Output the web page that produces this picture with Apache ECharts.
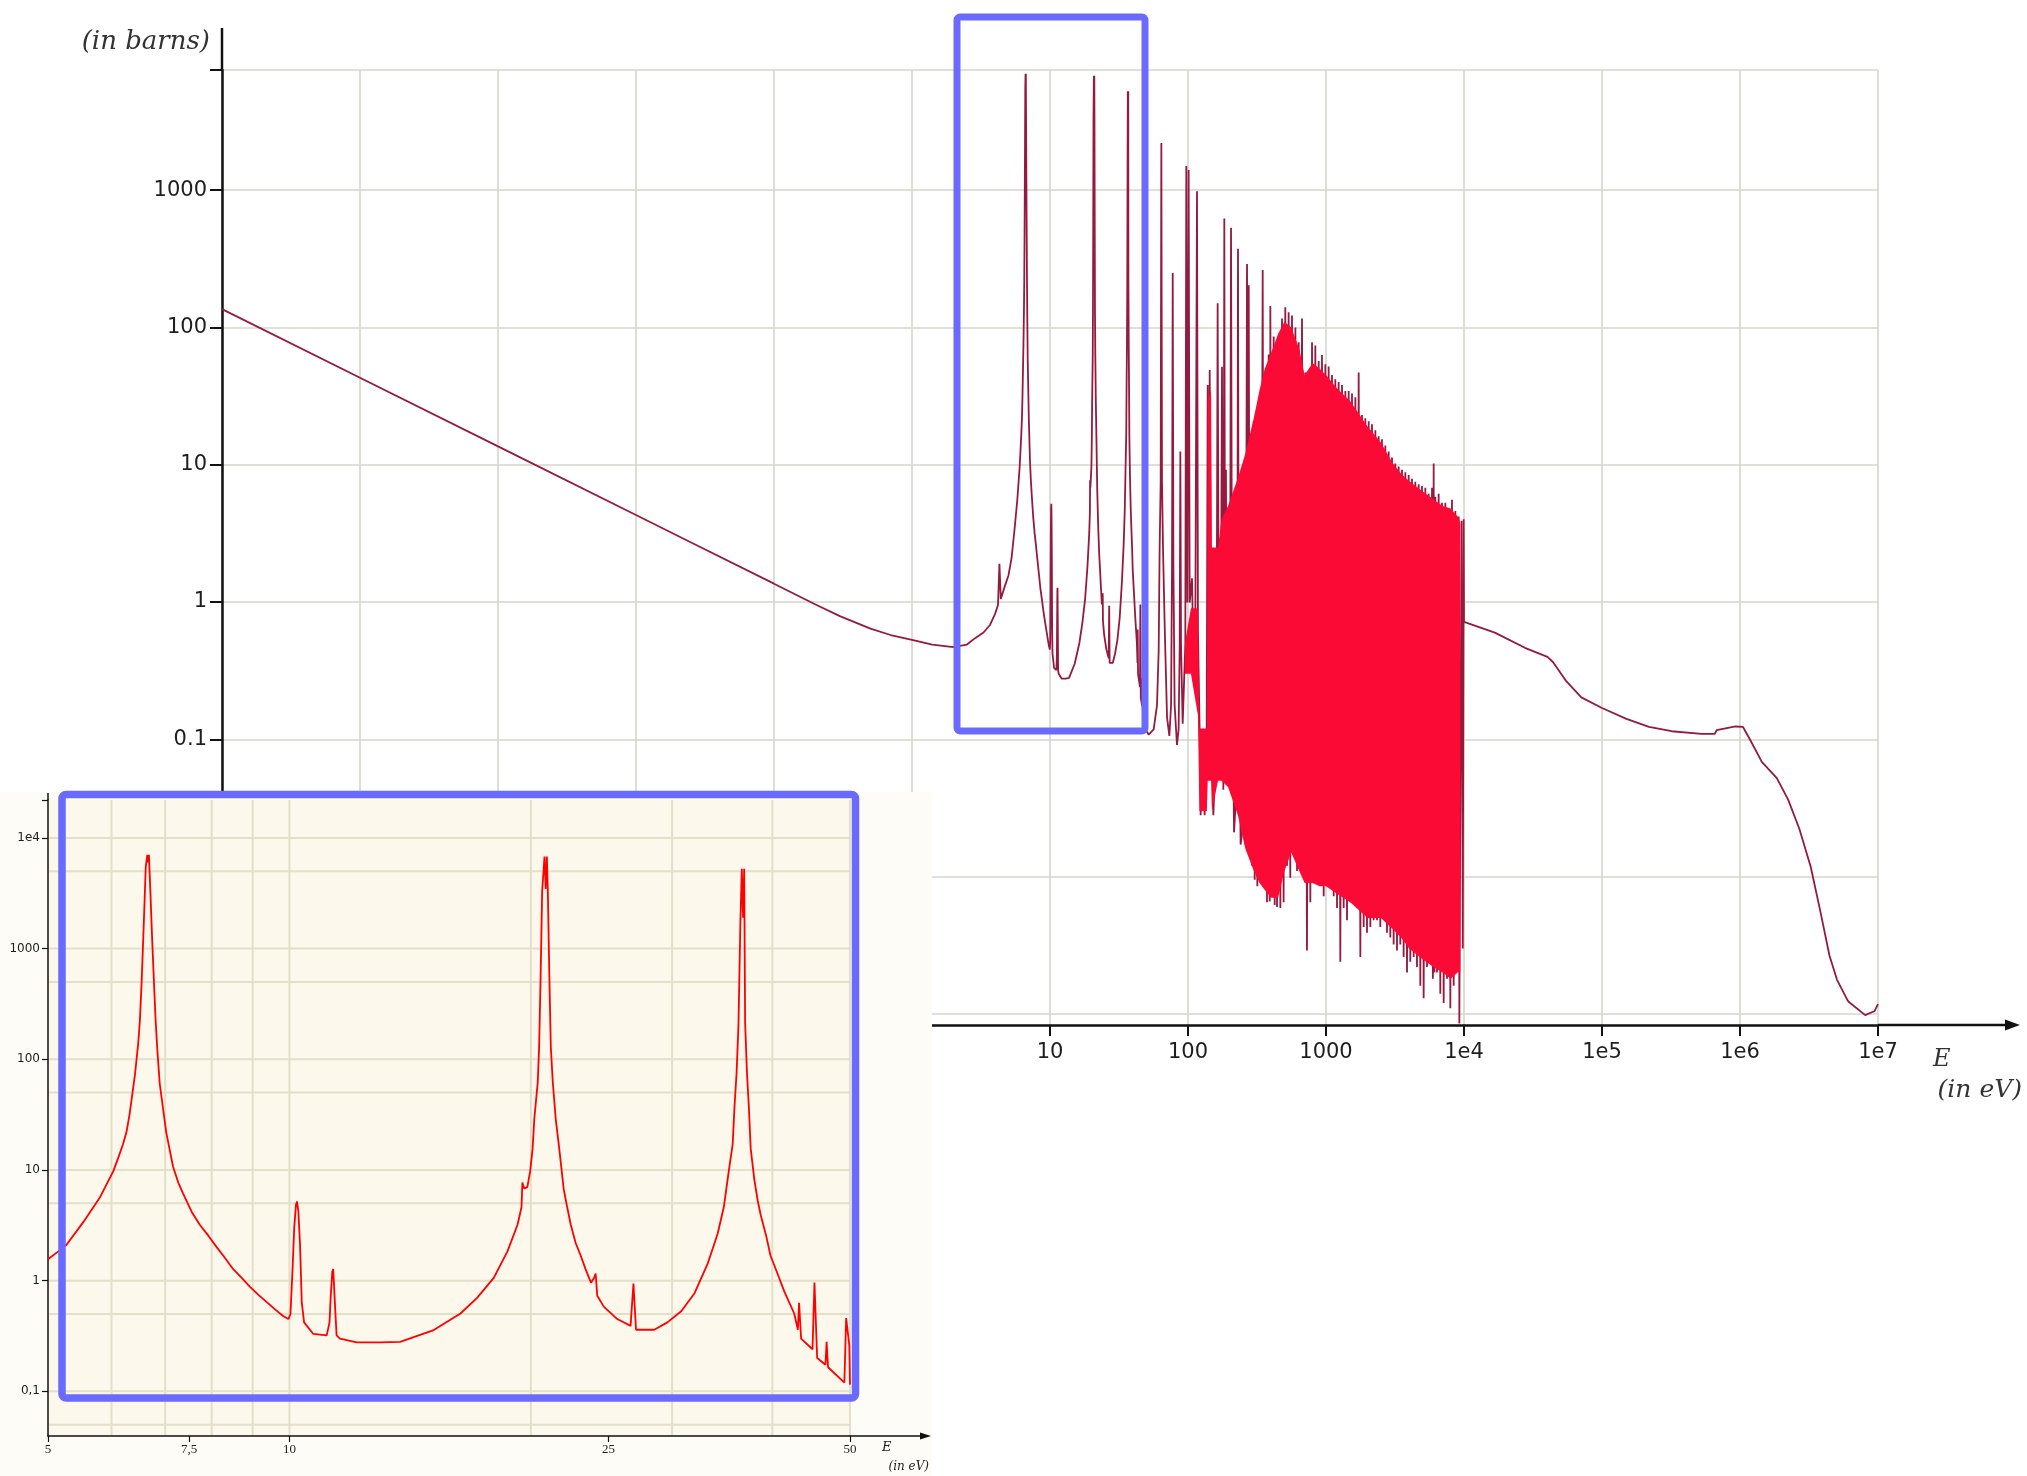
<!DOCTYPE html>
<html>
<head>
<meta charset="utf-8">
<title>U-238 radiative capture cross-section</title>
<script src="https://cdn.jsdelivr.net/npm/echarts@6/dist/echarts.min.js"></script>
<style>
  html, body { margin: 0; padding: 0; background: #ffffff; }
  #chart { width: 2027px; height: 1476px; }
</style>
</head>
<body>
<div id="chart"></div>
<script>
// Capture cross-section sigma (barns) against neutron energy E (eV), as [E, sigma] pairs.

// 1/v region up to the first resonance
const thermalRegion = [
  [1e-5, 136], [1e-4, 43], [1e-3, 13.6], [0.01, 4.3], [0.0253, 2.7], [0.1, 1.36],
  [0.2, 0.96], [0.3, 0.79], [0.5, 0.64], [0.7, 0.575], [1, 0.53], [1.4, 0.49], [2, 0.47],
  [2.5, 0.49], [2.9, 0.55], [3.3, 0.6], [3.67, 0.68], [4.0, 0.82], [4.2, 0.95], [4.3, 1.9],
  [4.4, 1.05], [4.7, 1.3]
];

// First resolved resonances, 5 - 50 eV (also shown enlarged in the inset)
const lowResonances = [
  [5.0, 1.56], [5.15, 1.84], [5.27, 2.1], [5.53, 3.36], [5.80, 5.6], [5.915, 7.4], [6.03, 9.7],
  [6.115, 12.8], [6.20, 17], [6.264, 22], [6.32, 32], [6.42, 74], [6.48, 142], [6.51, 226],
  [6.54, 470], [6.57, 1140], [6.60, 2870], [6.62, 5480], [6.65, 7040], [6.665, 6010],
  [6.68, 7040], [6.71, 3150], [6.74, 1310], [6.78, 470], [6.81, 226], [6.84, 129], [6.89, 61],
  [6.96, 35], [7.02, 22], [7.096, 14.8], [7.16, 10.7], [7.268, 7.7], [7.37, 6.1], [7.551, 4.2],
  [7.73, 3.2], [7.923, 2.55], [8.11, 2.02], [8.312, 1.6], [8.51, 1.27], [8.72, 1.06],
  [8.93, 0.88], [9.149, 0.745], [9.37, 0.64], [9.596, 0.55], [9.82, 0.48], [9.97, 0.45],
  [10.03, 0.5], [10.09, 1.27], [10.14, 3.06], [10.19, 4.86], [10.22, 5.2], [10.26, 4.2],
  [10.31, 2.1], [10.36, 0.64], [10.43, 0.42], [10.71, 0.33], [11.13, 0.32], [11.22, 0.42],
  [11.26, 0.73], [11.31, 1.21], [11.34, 1.27], [11.39, 0.66], [11.45, 0.32], [11.56, 0.30],
  [12.13, 0.277], [12.98, 0.277], [13.74, 0.28], [15.1, 0.355], [16.34, 0.505], [17.14, 0.70],
  [17.98, 1.06], [18.7, 1.84], [19.25, 3.2], [19.47, 4.6], [19.52, 7.7], [19.62, 6.8],
  [19.8, 7.0], [19.96, 9.7], [20.1, 15.5], [20.2, 29], [20.4, 62], [20.48, 129], [20.57, 569],
  [20.66, 3300], [20.8, 6800], [20.87, 3460], [20.94, 6800], [21.0, 3300], [21.09, 569],
  [21.18, 129], [21.3, 62], [21.48, 29], [21.7, 15.5], [21.98, 6.7], [22.2, 4.6],
  [22.43, 3.2], [22.74, 2.2], [23.08, 1.68], [23.4, 1.27], [23.77, 0.96], [23.97, 1.05],
  [24.09, 1.16], [24.2, 0.73], [24.67, 0.58], [25.63, 0.45], [26.63, 0.39], [26.85, 0.94],
  [26.95, 0.94], [27.05, 0.36], [28.5, 0.36], [29.6, 0.42], [30.8, 0.53], [32.0, 0.77],
  [33.2, 1.4], [33.7, 1.93], [34.2, 2.67], [34.8, 4.6], [35.3, 9.7], [35.7, 17], [35.9, 39],
  [36.1, 74], [36.3, 204], [36.5, 1730], [36.65, 5250], [36.78, 1900], [36.9, 5250],
  [37.0, 214], [37.2, 74], [37.4, 37], [37.6, 15.5], [38.0, 8.1], [38.36, 5.3], [38.7, 3.9],
  [39.3, 2.55], [39.8, 1.68], [40.6, 1.16], [41.4, 0.80], [42.6, 0.505], [43.05, 0.36],
  [43.2, 0.63], [43.35, 0.63], [43.45, 0.30], [44.9, 0.24], [45.15, 0.96], [45.36, 0.96],
  [45.5, 0.2], [46.6, 0.174], [46.75, 0.28], [46.82, 0.28], [46.95, 0.165], [49.2, 0.12],
  [49.45, 0.46], [49.58, 0.46], [49.9, 0.26], [50.0, 0.115]
];

// Resolved resonance forest, 50 eV - 10 keV: alternating peaks and valleys
const resonanceForest = [
  [51.9, 0.108], [56.4, 0.118], [59.6, 0.177], [61.3, 0.44], [62.3, 2.47], [63.4, 7.5],
  [64.1, 2207], [64.8, 7.5], [65.9, 2.47], [67.8, 0.66], [70.5, 0.144], [73.3, 0.106],
  [75.4, 0.177], [76.6, 1.82], [77.5, 249], [78.4, 1.82], [80.0, 0.177], [83.2, 0.091],
  [85.5, 0.118], [87.1, 0.49], [88.0, 12.5], [89.0, 0.49], [91.5, 0.13], [95.6, 0.49],
  [97.2, 1500], [98.9, 0.99], [101.1, 1400], [102.8, 0.99], [106.9, 1.49], [109.9, 0.32],
  [113.0, 0.6], [116.2, 980], [118.1, 0.6], [121.6, 0.106], [123.5, 0.028], [127.7, 0.106],
  [132.0, 0.028], [136.6, 0.118], [138.9, 38], [141.3, 0.177], [143.6, 49], [147.6, 0.177],
  [152.6, 0.028], [157.8, 0.064], [161.3, 0.49], [164.0, 150], [166.8, 0.49], [171.7, 0.064],
  [176.3, 51.7], [180.3, 0.043], [183.3, 621], [185.5, 0.49], [188.4, 9.2], [191.7, 0.047],
  [197.1, 0.064], [201.6, 0.49], [205.0, 533], [208.4, 0.49], [215.6, 0.021], [222.9, 0.0385],
  [227.8, 0.49], [230.3, 374], [232.9, 0.49], [240.6, 0.0171], [248.9, 0.0232], [254.5, 2.01],
  [260.3, 0.0171], [267.7, 290], [272.3, 3.7], [275.4, 203], [281.6, 0.0171], [291.5, 0.012],
  [299.2, 20.7], [304.3, 0.0095], [311.1, 2.0], [318.0, 0.0085], [325.2, 10.2], [336.4, 0.009],
  [347.7, 262], [355.0, 0.011], [363.3, 6.15], [373.6, 0.0065], [384.2, 63.4], [391.0, 0.0066],
  [395.1, 143], [406.3, 0.0085], [417.8, 85.9], [425.0, 0.0062], [429.6, 63.4], [441.8, 0.006],
  [454, 63], [467, 0.0059], [480, 116], [493, 0.0065], [507, 140], [522, 0.012],
  [536, 129], [551, 0.0098], [567, 122], [583, 0.016], [600, 100], [617, 0.011],
  [634, 78], [652, 0.012], [670, 116], [689, 0.018], [708, 47], [728, 0.0029],
  [749, 38], [770, 0.0065], [792, 78], [814, 0.0098], [837, 74], [861, 0.012],
  [885, 57], [910, 0.0088], [935, 63], [962, 0.0072], [989, 54], [1017, 0.0088],
  [1045, 52], [1075, 0.0098], [1105, 45], [1137, 0.0072], [1168, 42], [1202, 0.0059],
  [1235, 40], [1270, 0.0024], [1306, 38], [1343, 0.0059], [1381, 34.5], [1420, 0.0048],
  [1460, 34.5], [1501, 0.0065], [1543, 33], [1587, 0.0072], [1632, 31], [1678, 0.0059],
  [1725, 47], [1774, 0.0026], [1824, 23], [1875, 0.0043], [1928, 21.8], [1982, 0.0039],
  [2038, 20.7], [2096, 0.0043], [2154, 19.7], [2215, 0.0048], [2278, 17.8], [2342, 0.0048],
  [2407, 16.1], [2475, 0.0043], [2545, 15.3], [2617, 0.0053], [2691, 13.8], [2767, 0.0039],
  [2845, 12.5], [2925, 0.0036], [3008, 11.3], [3092, 0.0032], [3179, 10.2], [3269, 0.0029],
  [3361, 9.7], [3455, 0.0032], [3553, 9.2], [3653, 0.0026], [3756, 8.8], [3864, 0.002],
  [3972, 8.4], [4084, 0.0024], [4199, 7.9], [4318, 0.0026], [4438, 7.5], [4564, 0.0022],
  [4693, 7.2], [4825, 0.0016], [4962, 7.0], [5101, 0.0013], [5245, 6.8], [5393, 0.0022],
  [5546, 6.15], [5702, 0.0024], [5863, 6.8], [5950, 0.0018], [6028, 10.2], [6110, 0.002],
  [6198, 5.85], [6371, 0.002], [6552, 6.15], [6736, 0.0014], [6927, 5.28], [7124, 0.0012],
  [7323, 5.28], [7530, 0.0018], [7743, 4.8], [7962, 0.0011], [8185, 5.55], [8416, 0.0016],
  [8654, 4.6], [8898, 0.0022], [9150, 4.2], [9253, 0.00085], [9600, 3.9], [9800, 0.003],
  [9950, 4.0]
];

// Envelope of the densely packed resonances (filled band)
const forestFillTop = [
  [95, 0.5], [105, 0.9], [118, 0.9], [121, 0.12], [137, 0.12], [139, 30], [147, 35],
  [149, 2.5], [165, 2.5], [175, 4], [195, 5], [230, 8], [260, 12], [300, 22], [330, 35],
  [360, 50], [400, 65], [450, 90], [500, 110], [560, 100], [640, 70], [700, 45], [800, 55],
  [900, 50], [1000, 45], [1200, 36], [1500, 29], [2000, 19], [2500, 14.5], [3000, 10.5],
  [3500, 8.6], [4000, 7.6], [5000, 6.4], [6000, 5.6], [7000, 5.0], [8000, 4.8], [9000, 4.2],
  [9400, 3.8]
];
const forestFillBottom = [
  [95, 0.3], [105, 0.3], [118, 0.15], [121, 0.03], [137, 0.03], [139, 0.05], [147, 0.05],
  [149, 0.03], [165, 0.05], [175, 0.05], [195, 0.045], [230, 0.028], [260, 0.016], [300, 0.011],
  [330, 0.009], [360, 0.008], [400, 0.007], [450, 0.007], [500, 0.011], [560, 0.015],
  [640, 0.011], [700, 0.009], [800, 0.009], [900, 0.0085], [1000, 0.0085], [1200, 0.0075],
  [1500, 0.0065], [2000, 0.005], [2500, 0.005], [3000, 0.0042], [3500, 0.0036], [4000, 0.003],
  [5000, 0.0025], [6000, 0.0022], [7000, 0.002], [8000, 0.0018], [9000, 0.002], [9400, 0.002]
];

// Unresolved / fast region, 10 keV - 10 MeV
const fastRegion = [
  [1e4, 0.716], [16730, 0.598], [27630, 0.464], [40260, 0.398], [44230, 0.364], [55090, 0.265],
  [70820, 0.202], [1e5, 0.169], [150300, 0.141], [219100, 0.123], [319300, 0.1145],
  [527200, 0.1094], [656800, 0.1098], [677500, 0.1167], [927500, 0.124], [1051000, 0.123],
  [1192000, 0.098], [1439000, 0.0684], [1849000, 0.0522], [2233000, 0.0364], [2695000, 0.0222],
  [3253000, 0.0118], [3805000, 0.0057], [4452000, 0.00265], [5047000, 0.00177],
  [6091000, 0.00123], [8078000, 0.00098], [9452000, 0.00105], [1e7, 0.00118]
];

// Axis ranges and tick values
const mainRangeE = [1e-5, 1e7];
const mainRangeSigma = [0.00083, 7500];
const mainTicksE = [1e-5, 1e-4, 1e-3, 0.01, 0.1, 1, 10, 100, 1000, 1e4, 1e5, 1e6, 1e7];
const mainLabelsSigma = [0.001, 0.01, 0.1, 1, 10, 100, 1000];
const mainTicksSigma = [0.001, 0.01, 0.1, 1, 10, 100, 1000, 7500];

const insetRangeE = [5, 50];
const insetRangeSigma = [0.0395, 22000];
const insetTicksE = [5, 7.5, 10, 25, 50];
const insetLabelsSigma = [0.1, 1, 10, 100, 1000, 1e4];
const insetTicksSigma = [0.1, 1, 10, 100, 1000, 1e4, 22000];
const insetGridE = [6, 7, 8, 9, 10, 20, 30, 40, 50];
const insetGridSigma = [0.05, 0.1, 0.5, 1, 5, 10, 50, 100, 500, 1000, 5000, 1e4];

// Layout (pixels)
const MAIN = { left: 222, top: 70, right: 1878, bottom: 1025 };
const INSET = { left: 48, top: 800, right: 850, bottom: 1436 };

const mainCurve = thermalRegion.concat(lowResonances, resonanceForest, fastRegion);

function isDecade(v) {
  const l = Math.log10(v);
  return Math.abs(l - Math.round(l)) < 1e-6;
}
function decadeText(v, comma) {
  const n = Math.round(Math.log10(v));
  if (n >= 4) return '1e' + n;
  if (n >= 0) return String(Math.pow(10, n));
  const s = Math.pow(10, n).toFixed(-n);
  return comma ? s.replace('.', ',') : s;
}

const SANS = 'DejaVu Sans';
const SERIF = 'DejaVu Serif';
const BLUE = '#6a6aff';

const chart = echarts.init(document.getElementById('chart'), null, { renderer: 'canvas' });

chart.setOption({
  animation: false,
  backgroundColor: '#ffffff',
  grid: [
    { left: MAIN.left, top: MAIN.top, width: MAIN.right - MAIN.left, height: MAIN.bottom - MAIN.top, containLabel: false },
    { left: INSET.left, top: INSET.top, width: INSET.right - INSET.left, height: INSET.bottom - INSET.top, containLabel: false }
  ],
  xAxis: [
    {
      type: 'log', logBase: 10, gridIndex: 0, min: mainRangeE[0], max: mainRangeE[1],
      axisLine: { show: true, onZero: false, lineStyle: { color: '#111', width: 2.5 } },
      axisTick: { show: true, inside: false, length: 11, customValues: mainTicksE, lineStyle: { color: '#111', width: 2 } },
      axisLabel: {
        show: true, customValues: mainTicksE, margin: 17,
        fontFamily: SANS, fontSize: 21, color: '#1e1e1e',
        formatter: v => decadeText(v, false)
      },
      splitLine: { show: true, lineStyle: { color: '#d6d6ce', width: 1.6 } },
      minorTick: { show: false }, minorSplitLine: { show: false }
    },
    {
      type: 'log', logBase: 10, gridIndex: 1, min: insetRangeE[0], max: insetRangeE[1], z: 33,
      axisLine: { show: true, onZero: false, lineStyle: { color: '#111', width: 1.5 } },
      axisTick: { show: true, inside: false, length: 6, customValues: insetTicksE, lineStyle: { color: '#111', width: 1.2 } },
      axisLabel: {
        show: true, customValues: insetTicksE, margin: 7,
        fontFamily: 'Liberation Serif', fontSize: 13, color: '#1e1e1e',
        formatter: v => String(v).replace('.', ',')
      },
      splitLine: { show: false }
    }
  ],
  yAxis: [
    {
      type: 'log', logBase: 10, gridIndex: 0, min: mainRangeSigma[0], max: mainRangeSigma[1],
      axisLine: { show: true, onZero: false, lineStyle: { color: '#111', width: 2.5 } },
      axisTick: { show: true, inside: false, length: 12, customValues: mainTicksSigma, lineStyle: { color: '#111', width: 2 } },
      axisLabel: {
        show: true, customValues: mainLabelsSigma, margin: 15,
        fontFamily: SANS, fontSize: 21, color: '#1e1e1e',
        formatter: v => isDecade(v) ? decadeText(v, false) : ''
      },
      splitLine: { show: true, lineStyle: { color: '#d6d6ce', width: 1.6 } }
    },
    {
      type: 'log', logBase: 10, gridIndex: 1, min: insetRangeSigma[0], max: insetRangeSigma[1], z: 33,
      axisLine: { show: true, onZero: false, lineStyle: { color: '#111', width: 1.5 } },
      axisTick: { show: true, inside: false, length: 6, customValues: insetTicksSigma, lineStyle: { color: '#111', width: 1.2 } },
      axisLabel: {
        show: true, customValues: insetLabelsSigma, margin: 8,
        fontFamily: SANS, fontSize: 12, color: '#1e1e1e',
        formatter: v => isDecade(v) ? decadeText(v, true) : ''
      },
      splitLine: { show: false }
    }
  ],
  series: [
    {
      name: 'sigma',
      type: 'line', xAxisIndex: 0, yAxisIndex: 0, z: 2,
      data: mainCurve, showSymbol: false, symbol: 'none', sampling: null, clip: true,
      lineStyle: { color: '#951a3f', width: 1.8 },
      silent: true
    },
    {
      name: 'forest band',
      type: 'custom', xAxisIndex: 0, yAxisIndex: 0, z: 3, silent: true,
      data: [[100, 1]], encode: { x: 0, y: 1 },
      renderItem: function (params, api) {
        const pts = forestFillTop.map(p => api.coord(p))
          .concat(forestFillBottom.slice().reverse().map(p => api.coord(p)));
        return { type: 'polygon', shape: { points: pts }, style: { fill: '#fb0a36', stroke: null } };
      }
    },
    {
      name: 'inset grid',
      type: 'custom', xAxisIndex: 1, yAxisIndex: 1, z: 32, silent: true,
      data: [[insetRangeE[0], 1]], encode: { x: 0, y: 1 },
      renderItem: function (params, api) {
        const children = [];
        insetGridE.forEach(e => {
          const a = api.coord([e, insetRangeSigma[0]]);
          const b = api.coord([e, insetRangeSigma[1]]);
          children.push({ type: 'line', shape: { x1: a[0], y1: a[1], x2: b[0], y2: b[1] },
            style: { stroke: '#e3dfcb', lineWidth: 2 } });
        });
        insetGridSigma.forEach(s => {
          const a = api.coord([insetRangeE[0], s]);
          const b = api.coord([insetRangeE[1], s]);
          children.push({ type: 'line', shape: { x1: a[0], y1: a[1], x2: b[0], y2: b[1] },
            style: { stroke: '#e3dfcb', lineWidth: 2 } });
        });
        return { type: 'group', children: children };
      }
    },
    {
      name: 'sigma 5-50 eV',
      type: 'line', xAxisIndex: 1, yAxisIndex: 1, z: 34,
      data: lowResonances, showSymbol: false, symbol: 'none', clip: true,
      lineStyle: { color: '#ff0000', width: 1.8 },
      silent: true
    }
  ],
  graphic: {
    elements: [
      // main axes extensions
      { type: 'line', z: 5, shape: { x1: MAIN.left, y1: 28, x2: MAIN.left, y2: MAIN.top }, style: { stroke: '#111', lineWidth: 2.5 } },
      { type: 'line', z: 5, shape: { x1: MAIN.right, y1: MAIN.bottom, x2: 2008, y2: MAIN.bottom }, style: { stroke: '#111', lineWidth: 2.5 } },
      { type: 'polygon', z: 5, shape: { points: [[2020, MAIN.bottom], [2005, MAIN.bottom - 5.5], [2005, MAIN.bottom + 5.5]] }, style: { fill: '#111' } },
      // main axis titles
      { type: 'text', z: 5, x: 210, y: 42, style: { text: '(in barns)', font: 'italic 26px ' + SERIF, fill: '#333', align: 'right', textAlign: 'right', verticalAlign: 'middle', textVerticalAlign: 'middle' } },
      { type: 'text', z: 5, x: 1933, y: 1060, style: { text: 'E', font: 'italic 24px ' + SERIF, fill: '#333', align: 'left', textAlign: 'left', verticalAlign: 'middle', textVerticalAlign: 'middle' } },
      { type: 'text', z: 5, x: 2022, y: 1090, style: { text: '(in eV)', font: 'italic 25px ' + SERIF, fill: '#333', align: 'right', textAlign: 'right', verticalAlign: 'middle', textVerticalAlign: 'middle' } },
      // highlight of the 5-50 eV range
      { type: 'rect', z: 20, shape: { x: 957, y: 17, width: 188, height: 714, r: 3 }, style: { fill: null, stroke: BLUE, lineWidth: 7 } },

      // inset panel
      { type: 'rect', z: 30, shape: { x: 0, y: 792, width: 932, height: 684 }, style: { fill: '#fdfcf6' } },
      { type: 'rect', z: 31, shape: { x: INSET.left, y: INSET.top, width: INSET.right - INSET.left, height: INSET.bottom - INSET.top }, style: { fill: '#fcf8ec' } },
      { type: 'line', z: 33, shape: { x1: INSET.left, y1: 793, x2: INSET.left, y2: INSET.top }, style: { stroke: '#111', lineWidth: 1.5 } },
      { type: 'line', z: 33, shape: { x1: INSET.right, y1: INSET.bottom, x2: 923, y2: INSET.bottom }, style: { stroke: '#111', lineWidth: 1.5 } },
      { type: 'polygon', z: 33, shape: { points: [[931, INSET.bottom], [920, INSET.bottom - 3.5], [920, INSET.bottom + 3.5]] }, style: { fill: '#111' } },
      { type: 'text', z: 35, x: 882, y: 1448, style: { text: 'E', font: 'italic 13px ' + SERIF, fill: '#222', align: 'left', textAlign: 'left', verticalAlign: 'middle', textVerticalAlign: 'middle' } },
      { type: 'text', z: 35, x: 929, y: 1467, style: { text: '(in eV)', font: 'italic 12px ' + SERIF, fill: '#222', align: 'right', textAlign: 'right', verticalAlign: 'middle', textVerticalAlign: 'middle' } },
      { type: 'rect', z: 40, shape: { x: 62, y: 794.5, width: 793.5, height: 603.5, r: 4 }, style: { fill: null, stroke: BLUE, lineWidth: 7.5 } }
    ]
  }
});
</script>
</body>
</html>
